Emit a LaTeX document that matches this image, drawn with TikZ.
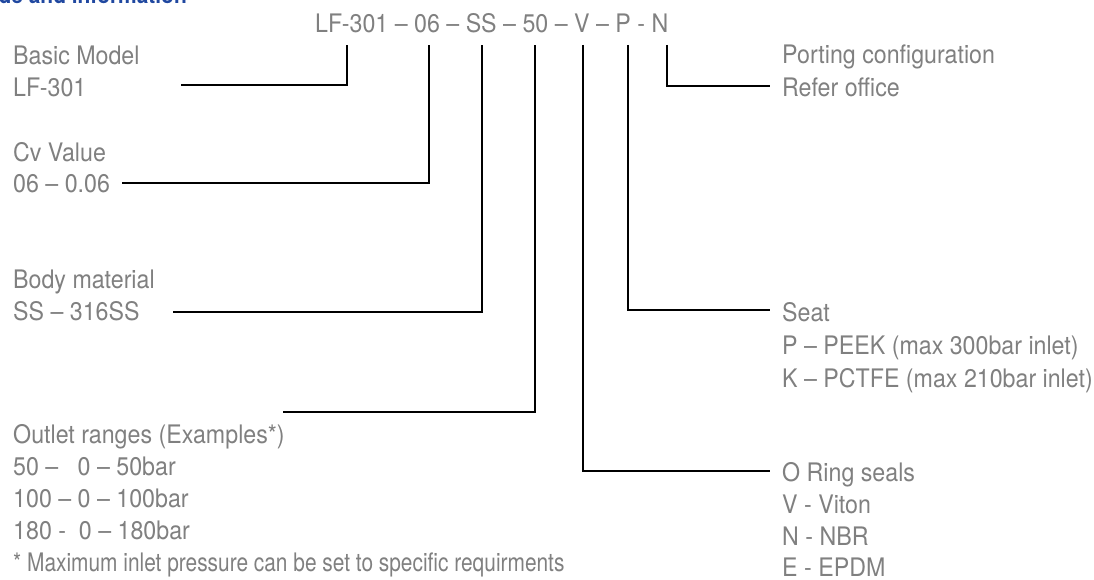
\documentclass[tikz,border=0pt]{standalone}
\usepackage{fontspec}
\usepackage{graphicx}
\setmainfont[FakeStretch=0.91]{TeX Gyre Heros}
\definecolor{txtgray}{RGB}{128,128,128}
\definecolor{hdblue}{RGB}{32,72,160}
\begin{document}
\begin{tikzpicture}[x=1pt,y=-1pt,
  lbl/.style={text=txtgray, font=\fontsize{25.5}{30}\selectfont, inner sep=0pt, anchor=base west},
  conn/.style={line width=2.6pt, line join=miter, draw=black}]
\useasboundingbox (0,0) rectangle (1094,580);

% cut-off heading
\node[font=\bfseries\fontsize{23}{23}\selectfont, text=hdblue, inner sep=0pt, anchor=base east] (hd) at (187,3.5) {Model code and information};

% code
\node[lbl] (code) at (315,33) {LF-301 – 06 – SS – 50 – V – P - N};

% left labels
\node[lbl] (bm1) at (13,65) {Basic Model};
\node[lbl] (bm2) at (13,97) {LF-301};
\node[lbl] (cv1) at (13,162) {Cv Value};
\node[lbl] (cv2) at (13,193) {06 – 0.06};
\node[lbl] (bd1) at (13,288) {Body material};
\node[lbl] (bd2) at (13,320) {SS – 316SS};
\node[lbl] (ou1) at (13,443) {Outlet ranges (Examples*)};
\node[lbl] (ou2) at (13,475) {50 –\ \ \ 0 – 50bar};
\node[lbl] (ou3) at (13,507) {100 – 0 – 100bar};
\node[lbl] (ou4) at (13,539) {180 -\ \ 0 – 180bar};
\node[lbl] (ou5) at (13,571) {\scalebox{0.9}[1]{* Maximum inlet pressure can be set to specific requirments}};

% right labels
\node[lbl] (pc1) at (782,64) {Porting configuration};
\node[lbl] (pc2) at (782,97) {Refer office};
\node[lbl] (st1) at (782,321) {Seat};
\node[lbl] (st2) at (782,354) {P – PEEK (max 300bar inlet)};
\node[lbl] (st3) at (782,387) {K – PCTFE (max 210bar inlet)};
\node[lbl] (or1) at (782,481) {O Ring seals};
\node[lbl] (or2) at (782,513) {V - Viton};
\node[lbl] (or3) at (782,545) {N - NBR};
\node[lbl] (or4) at (782,576) {E - EPDM};

% connector points under the code
\coordinate (tLF) at (347,45);
\coordinate (tCV) at (429,45);
\coordinate (tSS) at (482,45);
\coordinate (tOR) at (535,45);
\coordinate (tV)  at (583,45);
\coordinate (tP)  at (628,45);
\coordinate (tN)  at (667,45);
% free ends next to labels
\coordinate (eLF) at (181,85);
\coordinate (eCV) at (122,183);
\coordinate (eSS) at (173,312);
\coordinate (eOR) at (283,412);
\coordinate (eV)  at (770,471);
\coordinate (eP)  at (770,310);
\coordinate (eN)  at (770,86);

\draw[conn] (eLF) -| (tLF);
\draw[conn] (eCV) -| (tCV);
\draw[conn] (eSS) -| (tSS);
\draw[conn] (eOR) -| (tOR);
\draw[conn] (tV) |- (eV);
\draw[conn] (tP) |- (eP);
\draw[conn] (tN) |- (eN);
\end{tikzpicture}
\end{document}
